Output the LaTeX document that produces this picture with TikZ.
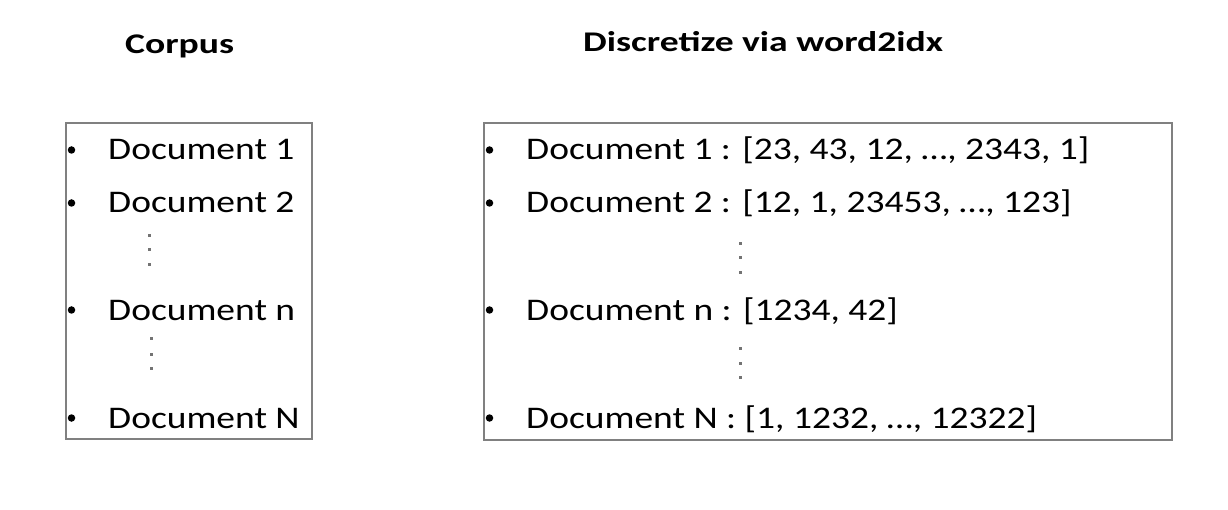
\documentclass[tikz,border=0pt]{standalone}
\usepackage{fontspec}
\setmainfont{Carlito}[FakeStretch=1.19]
\newfontfamily\titlefont{Carlito}[FakeStretch=1.32,BoldFont=* Bold]
\begin{document}
\begin{tikzpicture}[x=1pt,y=-1pt,
  frame/.style={draw=black!50,line width=2pt},
  item/.style={anchor=base west,inner sep=0pt,font=\fontsize{31.5}{37}\selectfont},
  ttl/.style={anchor=base west,inner sep=0pt,font=\titlefont\bfseries\fontsize{28.5}{34}\selectfont},
  bul/.style={circle,fill=black,inner sep=0pt,minimum size=7.5pt},
  vdot/.style={rectangle,fill=black!55,inner sep=0pt,minimum size=3pt}]
\useasboundingbox (0,0) rectangle (1228,510);
% titles
\node[ttl] (t1) at (125,54) {Corpus};
\node[ttl] (t2) at (583,52) {Discretize via word2idx};
% boxes
\draw[frame] (66,123) rectangle (312,439);
\draw[frame] (484,123) rectangle (1172,440);
% left list
\foreach \y/\t/\n in {160/1/a,213/2/b,320/n/c,428/N/d}{
  \node[bul] (lb\n) at (71.5,\y-10) {};
  \node[item] (l\n) at (108,\y) {Document \t};
}
\foreach \y [count=\i] in {236,250,265}{\node[vdot] (ld\i) at (149,\y) {};}
\foreach \y [count=\i] in {339,354,368}{\node[vdot] (le\i) at (151,\y) {};}
% right list
\node[bul] (rba) at (489.5,150) {};
\node[item] (ra) at (526,160) {Document 1 : [23, 43, 12, \dots, 2343, 1]};
\node[bul] (rbb) at (489.5,203) {};
\node[item] (rb) at (526,213) {Document 2 : [12, 1, 23453, \dots, 123]};
\node[bul] (rbc) at (489.5,310) {};
\node[item] (rc) at (526,320) {Document n : [1234, 42]};
\node[bul] (rbd) at (489.5,418) {};
\node[item] (rd) at (526,428) {Document N : [1, 1232, \dots, 12322]};
\foreach \y [count=\i] in {244,258,273}{\node[vdot] (rd\i) at (740,\y) {};}
\foreach \y [count=\i] in {348,363,377}{\node[vdot] (re\i) at (740,\y) {};}
\end{tikzpicture}
\end{document}
